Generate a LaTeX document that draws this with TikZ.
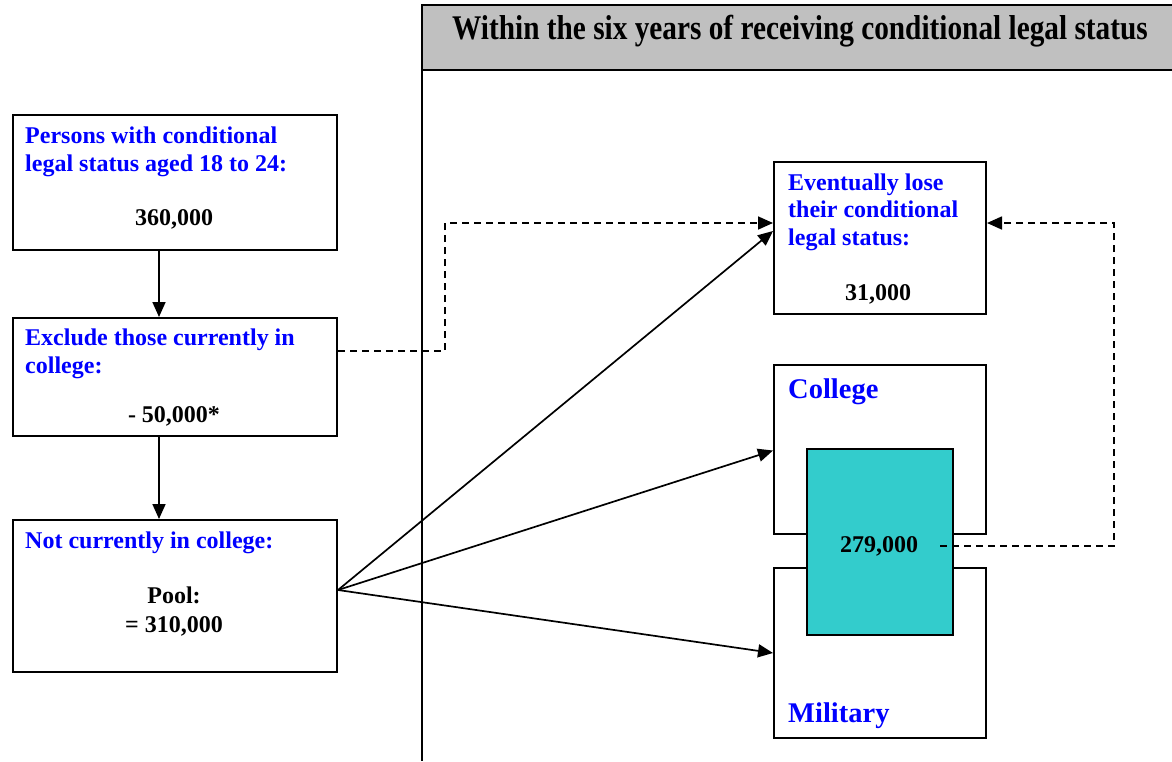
\documentclass[tikz,border=0pt]{standalone}
\usepackage{fontspec}
\setmainfont{Liberation Serif}
\usetikzlibrary{arrows.meta}
\definecolor{tealbox}{RGB}{51,204,204}
\definecolor{hdrgray}{RGB}{192,192,192}
\definecolor{bluetxt}{RGB}{0,0,255}
\begin{document}
\begin{tikzpicture}[x=1pt,y=-1pt,
  box/.style={draw=black,line width=2pt,fill=white,anchor=north west,inner sep=0pt},
  bt/.style={text=bluetxt,font=\fontsize{24}{27}\selectfont\bfseries,anchor=base west,inner sep=0pt},
  bigt/.style={text=bluetxt,font=\fontsize{28.5}{32}\selectfont\bfseries,anchor=base west,inner sep=0pt},
  nt/.style={text=black,font=\fontsize{24}{27}\selectfont\bfseries,anchor=base,inner sep=0pt},
  conn/.style={line width=1.7pt,-{Triangle[length=15pt,width=13pt]}},
  dconn/.style={line width=1.7pt,dash pattern=on 7pt off 5pt,-{Triangle[length=15pt,width=13pt]}}]
\useasboundingbox (0,0) rectangle (1172,761);
% header
\fill[hdrgray] (422,5) rectangle (1172,70);
\draw[line width=2pt] (1172,5) -- (422,5) -- (422,761);
\draw[line width=2pt] (422,70) -- (1172,70);
\node[font=\fontsize{29.3}{32}\selectfont\bfseries,anchor=base,inner sep=0pt,yscale=1.18] (hdr) at (800,39) {Within the six years of receiving conditional legal status};
% left boxes
\node[box,minimum width=324pt,minimum height=135pt] (b1) at (12,114) {};
\node[box,minimum width=324pt,minimum height=118pt] (b2) at (12,317) {};
\node[box,minimum width=324pt,minimum height=152pt] (b3) at (12,519) {};
\node[bt] (t1a) at (25,143) {Persons with conditional};
\node[bt] (t1b) at (25,171) {legal status aged 18 to 24:};
\node[nt] (n1) at (174,225) {360,000};
\node[bt] (t2a) at (25,345) {Exclude those currently in};
\node[bt] (t2b) at (25,373) {college:};
\node[nt] (n2) at (174,422) {- 50,000*};
\node[bt] (t3a) at (25,548) {Not currently in college:};
\node[nt] (n3a) at (174,603) {Pool:};
\node[nt] (n3b) at (174,632) {= 310,000};
% right boxes
\node[box,minimum width=212pt,minimum height=152pt] (lose) at (773,161) {};
\node[bt] (t4a) at (788,190) {Eventually lose};
\node[bt] (t4b) at (788,217) {their conditional};
\node[bt] (t4c) at (788,245) {legal status:};
\node[nt] (n4) at (878,300) {31,000};
\node[box,minimum width=212pt,minimum height=169pt] (college) at (773,364) {};
\node[box,minimum width=212pt,minimum height=170pt] (military) at (773,567) {};
\node[bigt] (tc) at (788,398) {College};
\node[bigt] (tm) at (788,722) {Military};
\node[box,fill=tealbox,minimum width=146pt,minimum height=186pt] (teal) at (806,448) {};
\node[nt] (n5) at (879,552) {279,000};
\coordinate (d2) at (940,546);
% connectors
\draw[conn] ([xshift=-16pt]b1.south) -- ([xshift=-16pt]b2.north);
\draw[conn] ([xshift=-16pt]b2.south) -- ([xshift=-16pt]b3.north);
\draw[conn] ([yshift=6pt]b3.east) -- ([yshift=7pt]lose.west);
\draw[conn] ([yshift=6pt]b3.east) -- ([yshift=-1pt]college.west);
\draw[conn] ([yshift=6pt]b3.east) -- (military.west);
\draw[dconn] ([yshift=26pt]b2.east) -- ++(107,0) |- ([yshift=15pt]lose.west);
\draw[dconn] (d2) -- ++(174,0) |- ([yshift=15pt]lose.east);
\end{tikzpicture}
\end{document}
